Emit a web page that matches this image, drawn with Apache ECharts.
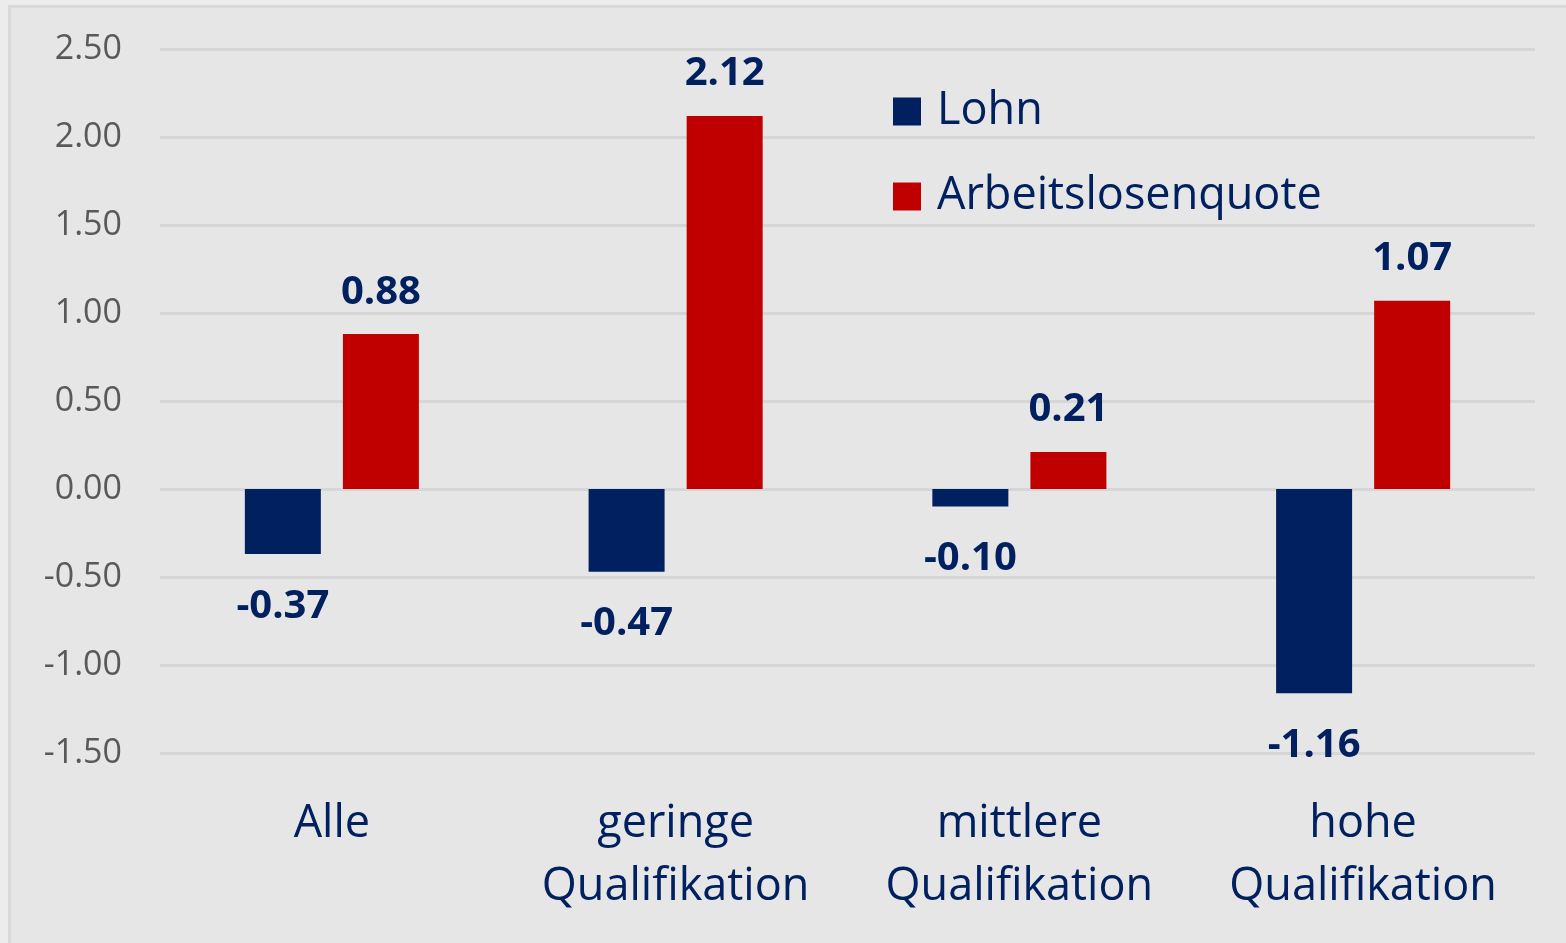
<!DOCTYPE html>
<html>
<head>
<meta charset="utf-8">
<script src="https://cdn.jsdelivr.net/npm/echarts@6/dist/echarts.min.js"></script>
<style>
    html, body { margin: 0; padding: 0; background: #ececec; }
    #chart {
        position: absolute; left: 8px; top: 5px;
        width: 1555px; height: 935px;
        border-left: 3px solid #d9d9d9; border-top: 3px solid #d9d9d9;
        background: #e6e6e6;
    }
</style>
</head>
<body>
<div id="chart"></div>
<script>
var categories = ['Alle', 'geringe\nQualifikation', 'mittlere\nQualifikation', 'hohe\nQualifikation'];
var lohn = [-0.37, -0.47, -0.10, -1.16];
var arbeitslosenquote = [0.88, 2.12, 0.21, 1.07];
var yTicks = { min: -1.5, max: 2.5, interval: 0.5 };

var font = '"Open Sans", sans-serif';
var navy = '#002060';
var red = '#C00000';

function barLabel() {
    return {
        show: true,
        position: 'top',
        distance: 22,
        color: navy,
        fontFamily: font,
        fontWeight: 'bold',
        fontSize: 40,
        formatter: function (p) { return p.value.toFixed(2); }
    };
}

function buildData(values) {
    // negative values get their label below the bar
    return values.map(function (v) {
        var item = { value: v };
        if (v < 0) item.label = { position: 'bottom', distance: 32 };
        return item;
    });
}

var myChart = echarts.init(document.getElementById('chart'));
var option = {
    animation: false,
    textStyle: { fontFamily: font },
    grid: { left: 149, right: 31, top: 41, bottom: 190 },
    legend: {
        orient: 'vertical',
        left: 877,
        top: 76,
        itemWidth: 28,
        itemHeight: 28,
        itemGap: 40,
        icon: 'rect',
        textStyle: { color: navy, fontSize: 45, fontFamily: font, padding: [0, 0, 0, 11] },
        data: ['Lohn', 'Arbeitslosenquote']
    },
    xAxis: {
        type: 'category',
        data: categories,
        axisLine: { show: false },
        axisTick: { show: false },
        axisLabel: {
            color: navy,
            fontSize: 45,
            fontFamily: font,
            lineHeight: 63,
            margin: 40,
            interval: 0
        }
    },
    yAxis: {
        type: 'value',
        min: yTicks.min,
        max: yTicks.max,
        interval: yTicks.interval,
        axisLine: { show: false },
        axisTick: { show: false },
        splitLine: { lineStyle: { color: '#d6d6d6', width: 3 } },
        axisLabel: {
            color: '#595959',
            fontSize: 34,
            fontFamily: font,
            margin: 38,
            formatter: function (v) { return v.toFixed(2); }
        }
    },
    series: [{
        name: 'Lohn',
        type: 'bar',
        data: buildData(lohn),
        barWidth: 76,
        barGap: '29%',
        itemStyle: { color: navy },
        label: barLabel()
    }, {
        name: 'Arbeitslosenquote',
        type: 'bar',
        data: buildData(arbeitslosenquote),
        barWidth: 76,
        barGap: '29%',
        itemStyle: { color: red },
        label: barLabel()
    }]
};
myChart.setOption(option);
</script>
</body>
</html>
